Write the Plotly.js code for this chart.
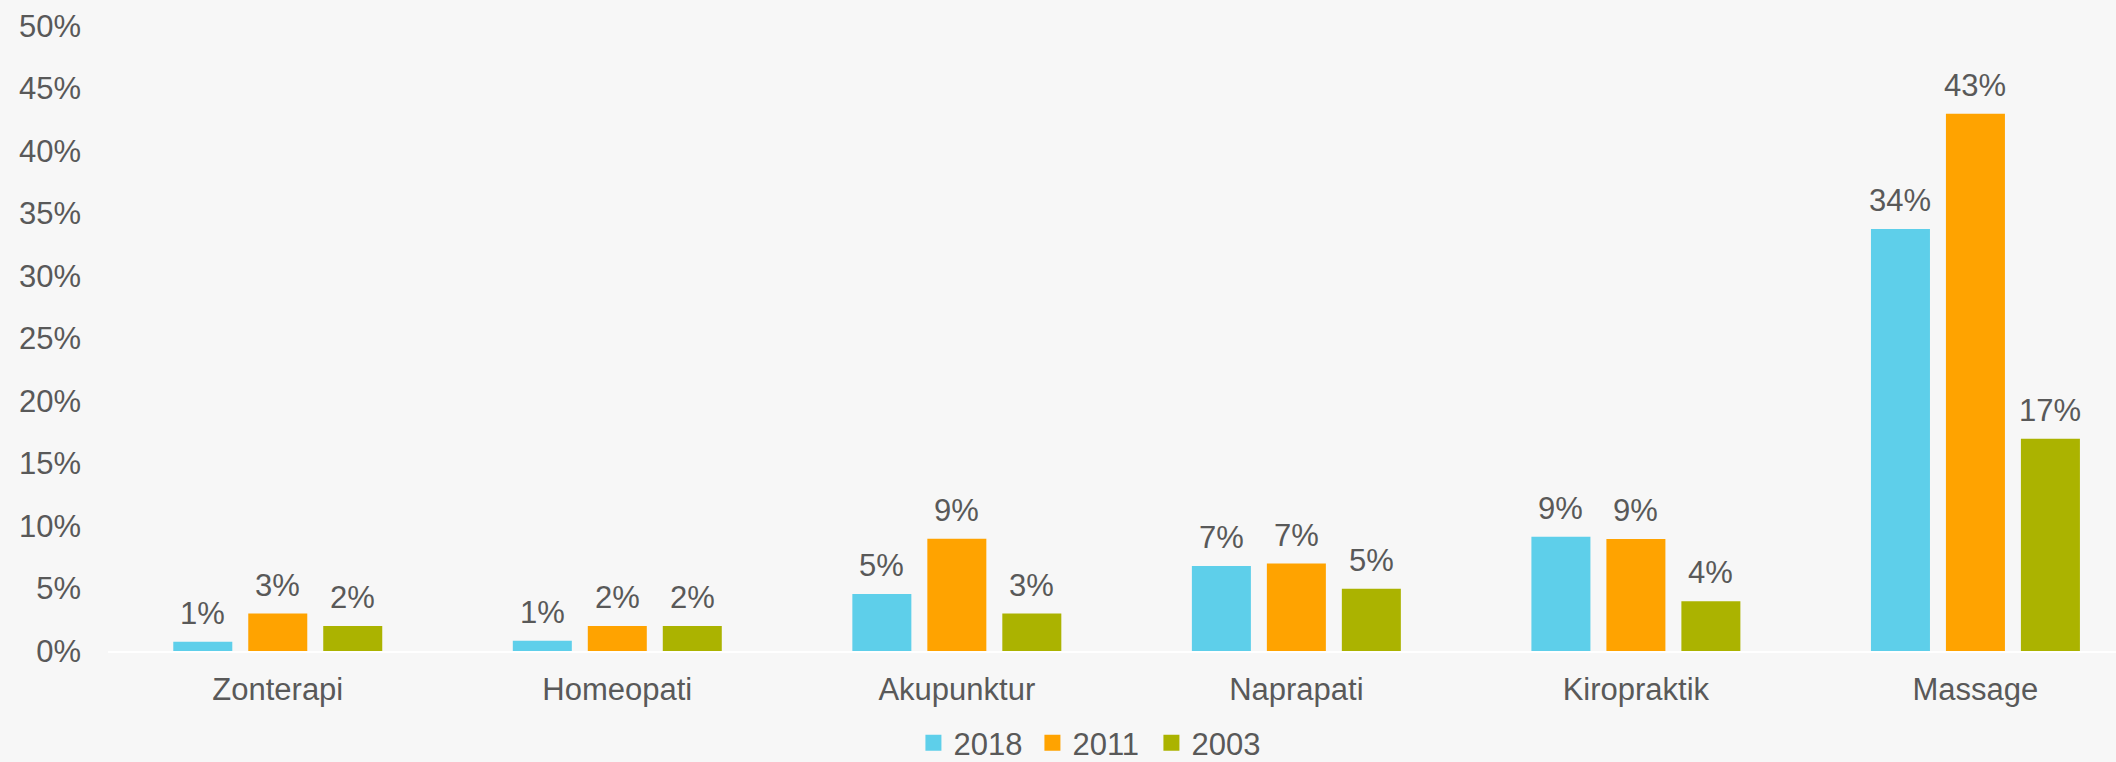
<!DOCTYPE html>
<html>
<head>
<meta charset="utf-8">
<script src="https://cdn.plot.ly/plotly-3.0.1.min.js"></script>
<style>
html,body{margin:0;padding:0;background:#f7f7f7;}
#chart{width:2116px;height:762px;}
</style>
</head>
<body>
<div id="chart"></div>
<script>
const categories = ["Zonterapi", "Homeopati", "Akupunktur", "Naprapati", "Kiropraktik", "Massage"];
const seriesNames = ["2018", "2011", "2003"];
const values2018 = [0.0074, 0.0082, 0.0456, 0.068, 0.0914, 0.3376];
const values2011 = [0.030, 0.020, 0.0898, 0.070, 0.0896, 0.4298];
const values2003 = [0.020, 0.020, 0.030, 0.0498, 0.0398, 0.1698];
const yTickVals = [0, 0.05, 0.10, 0.15, 0.20, 0.25, 0.30, 0.35, 0.40, 0.45, 0.50];

const colors = ["#5ecfea", "#ffa300", "#abb300"];
const textColor = "#595959";
const fontFamily = "'Liberation Sans', Arial, sans-serif";
const seriesValues = [values2018, values2011, values2003];
const groupOffsetPx = [-75, 0, 75];

const traces = [];
const annotations = [];
seriesValues.forEach((vals, i) => {
  traces.push({
    type: "bar",
    name: seriesNames[i],
    x: categories,
    y: vals,
    marker: {color: colors[i]},
    showlegend: false,
    hoverinfo: "x+y"
  });
  vals.forEach((v, j) => {
    annotations.push({
      x: categories[j],
      y: v,
      xref: "x",
      yref: "y",
      xshift: groupOffsetPx[i],
      yshift: 9,
      yanchor: "bottom",
      xanchor: "center",
      showarrow: false,
      text: Math.round(v * 100) + "%",
      font: {size: 31, color: textColor, family: fontFamily}
    });
  });
});
seriesValues.forEach((vals, i) => {
  traces.push({
    type: "scatter",
    mode: "markers",
    name: seriesNames[i],
    x: [null],
    y: [null],
    marker: {color: colors[i], symbol: "square", size: 16},
    showlegend: true,
    hoverinfo: "skip"
  });
});

const layout = {
  width: 2116,
  height: 762,
  paper_bgcolor: "#f7f7f7",
  plot_bgcolor: "#f7f7f7",
  font: {family: fontFamily, size: 31, color: textColor},
  margin: {l: 108, r: 0, t: 26, b: 111, pad: 0, autoexpand: false},
  barmode: "group",
  bargap: 0.3375,
  bargroupgap: 0.213,
  annotations: annotations,
  xaxis: {
    type: "category",
    range: [-0.5, 5.414],
    showgrid: false,
    zeroline: false,
    showline: true,
    linecolor: "#ffffff",
    linewidth: 2,
    ticks: "",
    ticklabelstandoff: 10,
    tickfont: {size: 31, color: textColor, family: fontFamily},
    automargin: false,
    fixedrange: true
  },
  yaxis: {
    range: [0, 0.5],
    tickvals: yTickVals,
    tickformat: ".0%",
    showgrid: false,
    zeroline: false,
    showline: false,
    ticks: "",
    ticklabelstandoff: 26,
    tickfont: {size: 31, color: textColor, family: fontFamily},
    automargin: false,
    fixedrange: true
  },
  legend: {
    orientation: "h",
    x: 0.49,
    xanchor: "center",
    y: -0.1472,
    yanchor: "middle",
    itemwidth: 30,
    entrywidth: 74,
    entrywidthmode: "pixels",
    font: {size: 31, color: textColor, family: fontFamily},
    bgcolor: "rgba(0,0,0,0)",
    itemclick: false,
    itemdoubleclick: false
  },
  showlegend: true
};

Plotly.newPlot("chart", traces, layout, {displayModeBar: false, staticPlot: true});
</script>
</body>
</html>
